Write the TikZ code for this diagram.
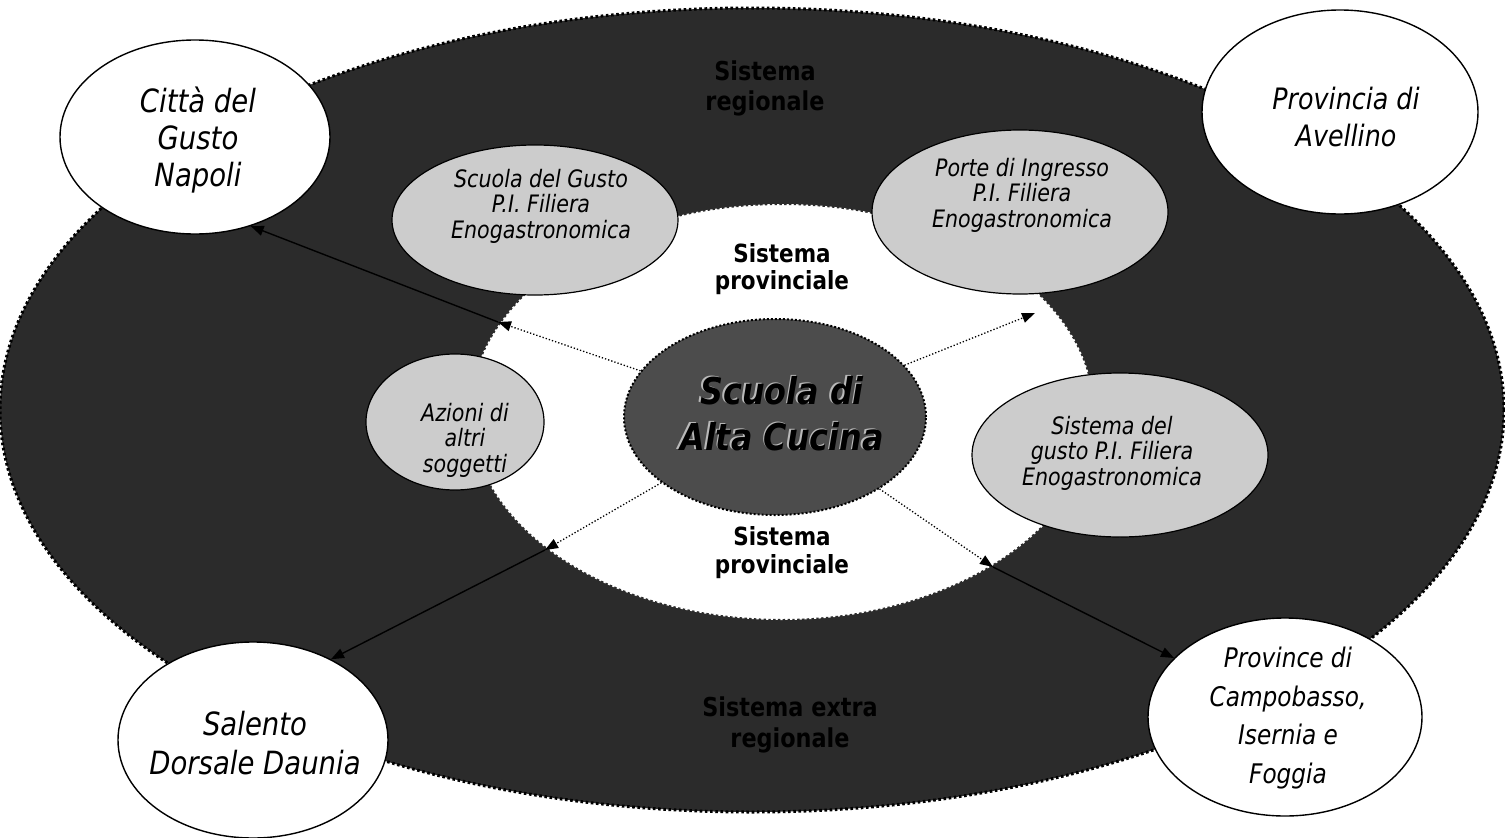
\documentclass[tikz,border=0pt]{standalone}
\usepackage{fontspec}
\setmainfont{DejaVu Sans}[FakeStretch=0.86]
\usetikzlibrary{shapes.geometric,arrows.meta}
\definecolor{ringgray}{gray}{0.17}
\definecolor{coregray}{gray}{0.3}
\definecolor{softgray}{gray}{0.8}
\newcommand\midital{\fontsize{24}{25.5}\selectfont\itshape}
\begin{document}
\begin{tikzpicture}[x=1pt,y=-1pt,
  ringshape/.style={ellipse, inner sep=0pt, fill=ringgray, draw=black,
    line width=3pt, dash pattern=on 2.6pt off 2.6pt},
  holeshape/.style={ellipse, inner sep=0pt, fill=white, draw=ringgray,
    line width=2pt, dash pattern=on 2.4pt off 2.4pt},
  coreshape/.style={ellipse, inner sep=0pt, fill=coregray, draw=black,
    line width=2pt, dash pattern=on 2pt off 2pt},
  softshape/.style={ellipse, inner sep=0pt, fill=softgray, draw=black, line width=1.2pt},
  placeshape/.style={ellipse, inner sep=0pt, fill=white, draw=black, line width=1.4pt},
  txt/.style={inner sep=0pt, align=center},
  dotarrow/.style={dotted, line width=1.3pt, -{Triangle[length=13pt,width=10pt]}},
  linkarrow/.style={line width=1.4pt, -{Triangle[length=13pt,width=10pt]}}
]
\useasboundingbox (0,0) rectangle (1505,838);

% outer ring and the white field of the provincial system
\node[ringshape, minimum width=1504pt, minimum height=804pt] (ring) at (752,410) {};
\node[holeshape, minimum width=624pt, minimum height=416pt] (hole) at (782,412) {};

% ring titles, dark on dark
\node[txt, font=\fontsize{26}{30}\selectfont\bfseries, text=black] (regtxt) at (765,88) {Sistema\\regionale};
\node[txt, font=\fontsize{26}{31}\selectfont\bfseries, text=black] (extratxt) at (790,725) {Sistema extra\\regionale};

% grey partner ellipses
\node[softshape, minimum width=286pt, minimum height=150pt] (sdg) at (535,220) {};
\node[txt, font=\midital] (sdgtxt) at (541,206) {Scuola del Gusto\\P.I. Filiera\\Enogastronomica};

\node[softshape, minimum width=296pt, minimum height=164pt] (pdi) at (1020,212) {};
\node[txt, font=\midital] (pditxt) at (1022,195) {Porte di Ingresso\\P.I. Filiera\\Enogastronomica};

\node[softshape, minimum width=178pt, minimum height=136pt] (azi) at (455,422) {};
\node[txt, font=\midital] (azitxt) at (465,440) {Azioni di\\altri\\soggetti};

\node[softshape, minimum width=296pt, minimum height=164pt] (sgu) at (1120,455) {};
\node[txt, font=\midital] (sgutxt) at (1112,453) {Sistema del\\gusto P.I. Filiera\\Enogastronomica};

% provincial system labels
\node[txt, font=\fontsize{25}{27}\selectfont\bfseries] (provtop) at (782,269) {Sistema\\provinciale};
\node[txt, font=\fontsize{25}{28}\selectfont\bfseries] (provbot) at (782,553) {Sistema\\provinciale};

% central school
\node[coreshape, minimum width=302pt, minimum height=196pt] (core) at (775,417) {};
\node[txt, font=\fontsize{37}{46}\selectfont\bfseries\itshape, text=gray!55] (coreshadow) at (780.5,412.5) {Scuola di\\Alta Cucina};
\node[txt, font=\fontsize{37}{46}\selectfont\bfseries\itshape, text=black] (coretxt) at (782,414) {Scuola di\\Alta Cucina};

% points where the flows leave the provincial field
\coordinate (ulT) at (498,322);
\coordinate (urT) at (1035,313);
\coordinate (llT) at (545,550);
\coordinate (lrT) at (993,567);

\draw[dotarrow] (core) -- (ulT);
\draw[dotarrow] (core) -- (urT);
\draw[dotarrow] (core) -- (llT);
\draw[dotarrow] (core) -- (lrT);

% external territories
\node[placeshape, minimum width=270pt, minimum height=194pt] (napoli) at (195,137) {};
\node[txt, font=\fontsize{32}{37}\selectfont\itshape] (napolitxt) at (198,140) {Città del\\Gusto\\Napoli};

\node[placeshape, minimum width=276pt, minimum height=204pt] (avellino) at (1340,112) {};
\node[txt, font=\fontsize{29.5}{37}\selectfont\itshape] (avellinotxt) at (1346,117) {Provincia di\\Avellino};

\node[placeshape, minimum width=270pt, minimum height=196pt] (salento) at (253,740) {};
\node[txt, font=\fontsize{32}{38.5}\selectfont\itshape] (salentotxt) at (255,743) {Salento\\Dorsale Daunia};

\node[placeshape, minimum width=274pt, minimum height=198pt] (campo) at (1285,717) {};
\node[txt, font=\fontsize{27}{38.5}\selectfont\itshape] (campotxt) at (1288,718) {Province di\\Campobasso,\\Isernia e\\Foggia};

% links from the provincial field to the territories
\draw[linkarrow] (ulT) -- (napoli.-58);
\draw[linkarrow] (llT) -- (salento.46);
\draw[linkarrow] (lrT) -- (campo.152);
\end{tikzpicture}
\end{document}
